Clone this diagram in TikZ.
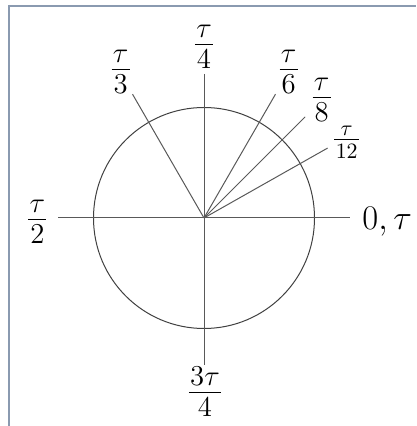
\documentclass[tikz,border=0pt]{standalone}
\usepackage{amsmath}
\newcommand\myfr[4]{\vbox{\offinterlineskip\halign{\hfil\kern0.7pt##\kern0.7pt\hfil\cr $#1$\cr\noalign{\kern#3\hrule height0.5pt\kern#4}$#2$\cr}}}
\begin{document}
\begin{tikzpicture}[x=0.5pt,y=0.5pt,
  ray/.style={draw=black!65,line width=0.5pt},
  circ/.style={draw=black!75,line width=0.5pt},
  lbl/.style={inner sep=0pt,font=\fontsize{13.5}{16}\selectfont},
  slbl/.style={inner sep=0pt,font=\fontsize{10.9}{13}\selectfont},
  frame/.style={draw={rgb,255:red,138;green,154;blue,176},line width=1pt}]
\useasboundingbox (0,0) rectangle (416,426);
% frame
\coordinate (f1) at (8,420);
\coordinate (f2) at (416,420);
\coordinate (f3) at (9,421);
\coordinate (f4) at (9,0);
\draw[frame] (f1) -- (f2);
\draw[frame] (f3) -- (f4);
% centre
\coordinate (O) at (204,208);
\draw[circ] (O) circle (110.5);
% axes
\path (O) ++(-146,0) coordinate (W) (O) ++(146,0) coordinate (E)
      (O) ++(0,144) coordinate (N) (O) ++(0,-147) coordinate (S);
\draw[ray] (W) -- (E);
\draw[ray] (N) -- (S);
% rays
\path (O) ++(120:143) coordinate (r120)
      (O) ++(60:143) coordinate (r60)
      (O) ++(45:143) coordinate (r45)
      (O) ++(29.5:142) coordinate (r30);
\draw[ray] (O) -- (r120);
\draw[ray] (O) -- (r60);
\draw[ray] (O) -- (r45);
\draw[ray] (O) -- (r30);
% labels
\node[lbl] (l4) at (204,379) {\myfr{\tau}{4}{3pt}{2.6pt}};
\node[lbl] (l3) at (120.7,354) {\myfr{\tau}{3}{3pt}{2.6pt}};
\node[lbl] (l6) at (288.7,354) {\myfr{\tau}{6}{3pt}{2.6pt}};
\node[lbl] (l8) at (321.7,326) {\myfr{\tau}{8}{3pt}{2.6pt}};
\node[slbl] (l12) at (346.7,284) {\myfr{\tau}{12}{2pt}{1.85pt}};
\node[lbl] (l2) at (37.3,204) {\myfr{\tau}{2}{3pt}{2.6pt}};
\node[lbl] (l34) at (205,34) {\myfr{3\tau}{4}{3pt}{2.6pt}};
\node[inner sep=0pt,anchor=base west,font=\fontsize{17}{20}\selectfont] (l0) at (362,196) {$0,\tau$};
\end{tikzpicture}
\end{document}
